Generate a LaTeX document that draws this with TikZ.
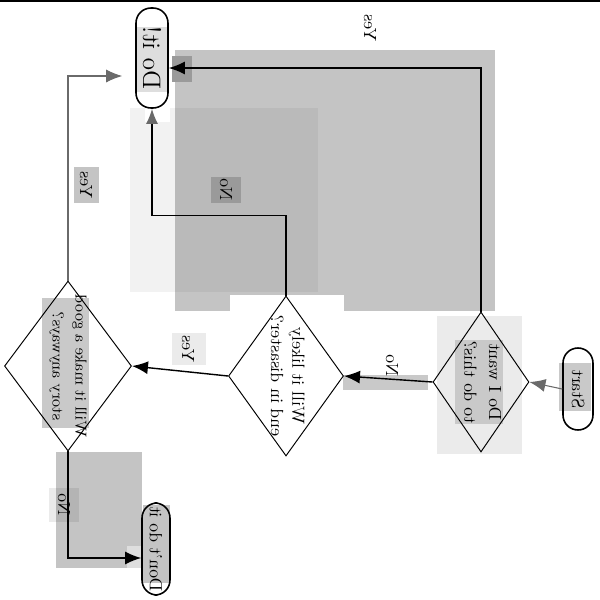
\documentclass[tikz,border=0pt]{standalone}
\usepackage{graphicx}
\usetikzlibrary{shapes.geometric,arrows.meta}

\definecolor{boxgray}{HTML}{C4C4C4}
\definecolor{midgray}{HTML}{C9C9C9}
\definecolor{innergray}{HTML}{DEDEDE}
\definecolor{palegray}{HTML}{EBEBEB}
\definecolor{darkbox}{HTML}{9A9A9A}
\definecolor{tipgray}{HTML}{6A6A6A}

\newcommand{\fliptext}[1]{\reflectbox{\rotatebox{90}{#1}}}

\tikzset{
	terminal/.style = {draw=black, line width=0.9pt, rectangle, rounded corners=0.3cm, inner sep=0pt},
	decision/.style = {draw=black, line width=0.55pt, diamond, inner sep=0pt},
	boxtext/.style = {inner sep=0pt, align=center},
	edgelabel/.style = {inner sep=0pt},
	hardarrow/.style = {line width=0.8pt, -{Latex[length=3.2mm,width=2.6mm]}},
	softarrow/.style = {line width=0.6pt, draw=tipgray, -{Latex[length=3.2mm,width=2.6mm,color=tipgray]}},
	mixarrow/.style = {line width=0.8pt, -{Latex[length=3mm,width=2.4mm,color=tipgray]}}
}

\begin{document}
\begin{tikzpicture}[x=0.02cm, y=-0.02cm]
	\useasboundingbox (0,0) rectangle (600,600);
	% grey patches behind the chart
	\fill[boxgray] (175,50) rectangle (495,311);
	\fill[white] (230,295) rectangle (344,456);
	\fill[black, fill opacity=0.05] (130,108) rectangle (318,292);
	\fill[white] (145,108) rectangle (170,122);
	\fill[darkbox] (172,56) rectangle (192,82);
	\fill[innergray] (137,27) rectangle (167,92);
	\fill[darkbox] (211,177) rectangle (241,203);
	\fill[palegray] (437,316) rectangle (522,454);
	\fill[midgray] (455,340) rectangle (503,424);
	\fill[midgray] (559,363) rectangle (591,411);
	\fill[midgray] (343,375) rectangle (428,390);
	\fill[midgray] (42,298) rectangle (89,428);
	\fill[palegray] (172,333) rectangle (206,365);
	\fill[boxgray] (56,452) rectangle (142,568);
	\fill[black, fill opacity=0.08] (49,488) rectangle (79,522);
	\fill[innergray] (127,546) rectangle (142,568);
	\fill[boxgray] (143,505) rectangle (170,583);
	\fill[boxgray] (74,167) rectangle (99,203);
	\draw[line width=1.4pt] (0,1) -- (600,1);

	% terminals and decisions
	\node[terminal, minimum width=0.64cm, minimum height=2cm] (doit) at (152,58) {\fliptext{\Large Do it!}};
	\node[terminal, minimum width=0.6cm, minimum height=1.64cm] (start) at (578,389) {\fliptext{Start}};
	\node[terminal, minimum width=0.56cm, minimum height=1.84cm] (dont) at (156,549) {\fliptext{Don't do it}};
	\node[decision, minimum width=1.92cm, minimum height=2.8cm] (want) at (481,382) {};
	\node[decision, minimum width=2.3cm, minimum height=3.2cm] (disaster) at (286,376) {};
	\node[decision, minimum width=2.54cm, minimum height=3.4cm] (story) at (68,366) {};
	\node[boxtext] (wanttext) at (want) {\fliptext{\begin{tabular}{@{}c@{}}Do I want\\[2pt] to do this?\end{tabular}}};
	\node[boxtext] (disastertext) at (disaster) {\fliptext{\begin{tabular}{@{}c@{}}Will it likely\\ end in disaster?\end{tabular}}};
	\node[boxtext] (storytext) at (story) {\fliptext{\small\begin{tabular}{@{}c@{}}Will it make a good\\[2pt] story anyways?\end{tabular}}};

	% labels
	\node[edgelabel] (no1) at (392,366) {\fliptext{No}};
	\node[edgelabel] (yes1) at (370,28) {\fliptext{Yes}};
	\node[edgelabel] (no2) at (226,190) {\fliptext{No}};
	\node[edgelabel] (yes2) at (188,349) {\fliptext{Yes}};
	\node[edgelabel] (yes3) at (86,185) {\fliptext{Yes}};
	\node[edgelabel] (no3) at (64,505) {\fliptext{No}};

	% connectors
	\draw[softarrow] (start.west) -- (want.east);
	\draw[hardarrow] (want.west) -- (disaster.east);
	\draw[hardarrow] (want.north) |- ([yshift=-0.2cm]doit.east);
	\draw[mixarrow] (disaster.north) -- ++(0,-80) -| (doit.south);
	\draw[hardarrow] (disaster.west) -- (story.east);
	\draw[softarrow, shorten >=0.26cm] (story.north) |- ([yshift=-0.36cm]doit.west);
	\draw[hardarrow] (story.south) |- ([yshift=-0.18cm]dont.west);
\end{tikzpicture}
\end{document}
